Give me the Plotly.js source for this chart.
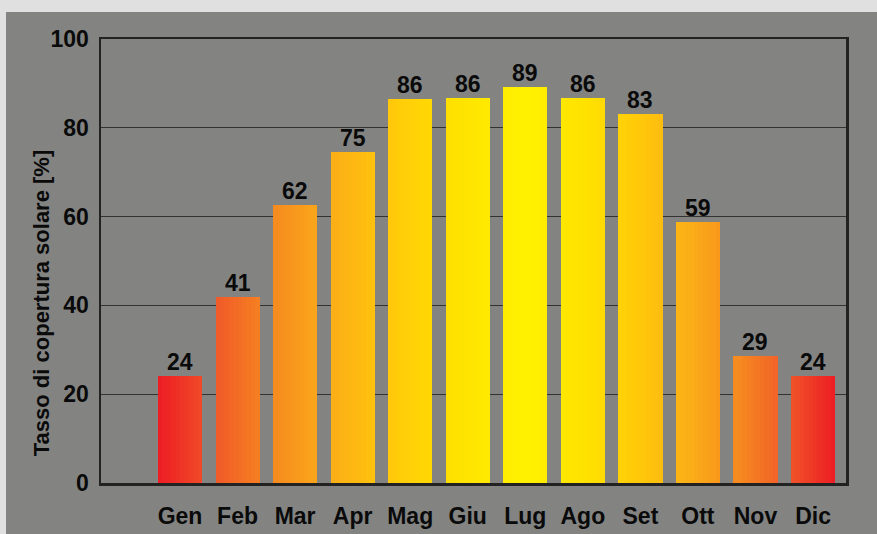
<!DOCTYPE html>
<html>
<head>
<meta charset="utf-8">
<script src="https://cdn.plot.ly/plotly-3.0.1.min.js"></script>
<style>
html,body{margin:0;padding:0;background:#e0e0e0;width:877px;height:534px;overflow:hidden;}
#chart{position:absolute;left:6px;top:12px;width:871px;height:522px;}
</style>
</head>
<body>
<div id="chart"></div>
<script>
const months = ["Gen","Feb","Mar","Apr","Mag","Giu","Lug","Ago","Set","Ott","Nov","Dic"];
const values = [24.2, 42.0, 62.6, 74.5, 86.6, 86.8, 89.2, 86.8, 83.0, 58.7, 28.7, 24.0];
const labels = ["24","41","62","75","86","86","89","86","83","59","29","24"];
const yTitle = "Tasso di copertura solare [%]";

// gradient stops (t = 0 at July centre, 1 at outer edges)
const stops = [
  [0.00, [255,242,0]],
  [0.20, [255,225,0]],
  [0.37, [255,200,10]],
  [0.53, [251,174,24]],
  [0.69, [246,138,31]],
  [0.84, [241,90,41]],
  [1.00, [237,28,36]]
];
function colorAt(t){
  t = Math.max(0, Math.min(1, t));
  for (let i=1;i<stops.length;i++){
    if (t <= stops[i][0]){
      const a = stops[i-1], b = stops[i];
      const f = (t - a[0])/(b[0]-a[0]);
      const c = a[1].map((v,k)=>Math.round(v + (b[1][k]-v)*f));
      return 'rgb('+c.join(',')+')';
    }
  }
  return 'rgb(237,28,36)';
}
function tOf(x){
  return x <= 6 ? (6 - x)/6.38 : (x - 6)/5.38;
}

const xs = months.map((m,i)=>i);
const bw = 0.765;
const N = 10;
const traces = [];
for (let k=0;k<N;k++){
  const off = -bw/2 + k*bw/N;
  const centre = off + bw/(2*N);
  traces.push({
    type:'bar',
    x: xs,
    y: values,
    width: bw/N + 0.002,
    offset: off,
    marker:{color: xs.map(i=>colorAt(tOf(i+centre))), line:{width:0}},
    hoverinfo:'skip',
    showlegend:false
  });
}

const fontBase = {family:'Liberation Sans, Arial, sans-serif', size:23, color:'#0a0a0a', weight:'bold'};
const titleFont = {family:'Liberation Sans, Arial, sans-serif', size:22, color:'#0a0a0a', weight:'bold'};

const annotations = xs.map(i=>({
  x:i, y:values[i], text:labels[i], xref:'x', yref:'y',
  yanchor:'bottom', xanchor:'center', showarrow:false, yshift:-1,
  font:fontBase
}));
annotations.push({
  x:-0.0805, y:0.405, xref:'paper', yref:'paper',
  xanchor:'center', yanchor:'middle', textangle:-90, showarrow:false,
  text:'<b>'+yTitle+'</b>', font:titleFont
});

const layout = {
  width:871, height:522,
  paper_bgcolor:'#838482',
  plot_bgcolor:'#838482',
  margin:{l:95, r:31, t:27, b:51},
  barmode:'overlay',
  bargap:0,
  font:fontBase,
  xaxis:{
    range:[-1.373, 11.573],
    tickvals: xs,
    ticktext: months,
    showgrid:false, zeroline:false,
    showline:true, linecolor:'#222', linewidth:2.5, mirror:true,
    ticks:'', ticklabelstandoff:11,
    tickfont:fontBase
  },
  yaxis:{
    range:[0,100], dtick:20,
    showgrid:true, gridcolor:'#333', gridwidth:1.3,
    zeroline:false,
    showline:true, linecolor:'#222', linewidth:2.5, mirror:true,
    ticks:'', ticklabelstandoff:5,
    tickfont:fontBase
  },
  annotations: annotations
};

Plotly.newPlot('chart', traces, layout, {displayModeBar:false, staticPlot:true});
</script>
</body>
</html>
